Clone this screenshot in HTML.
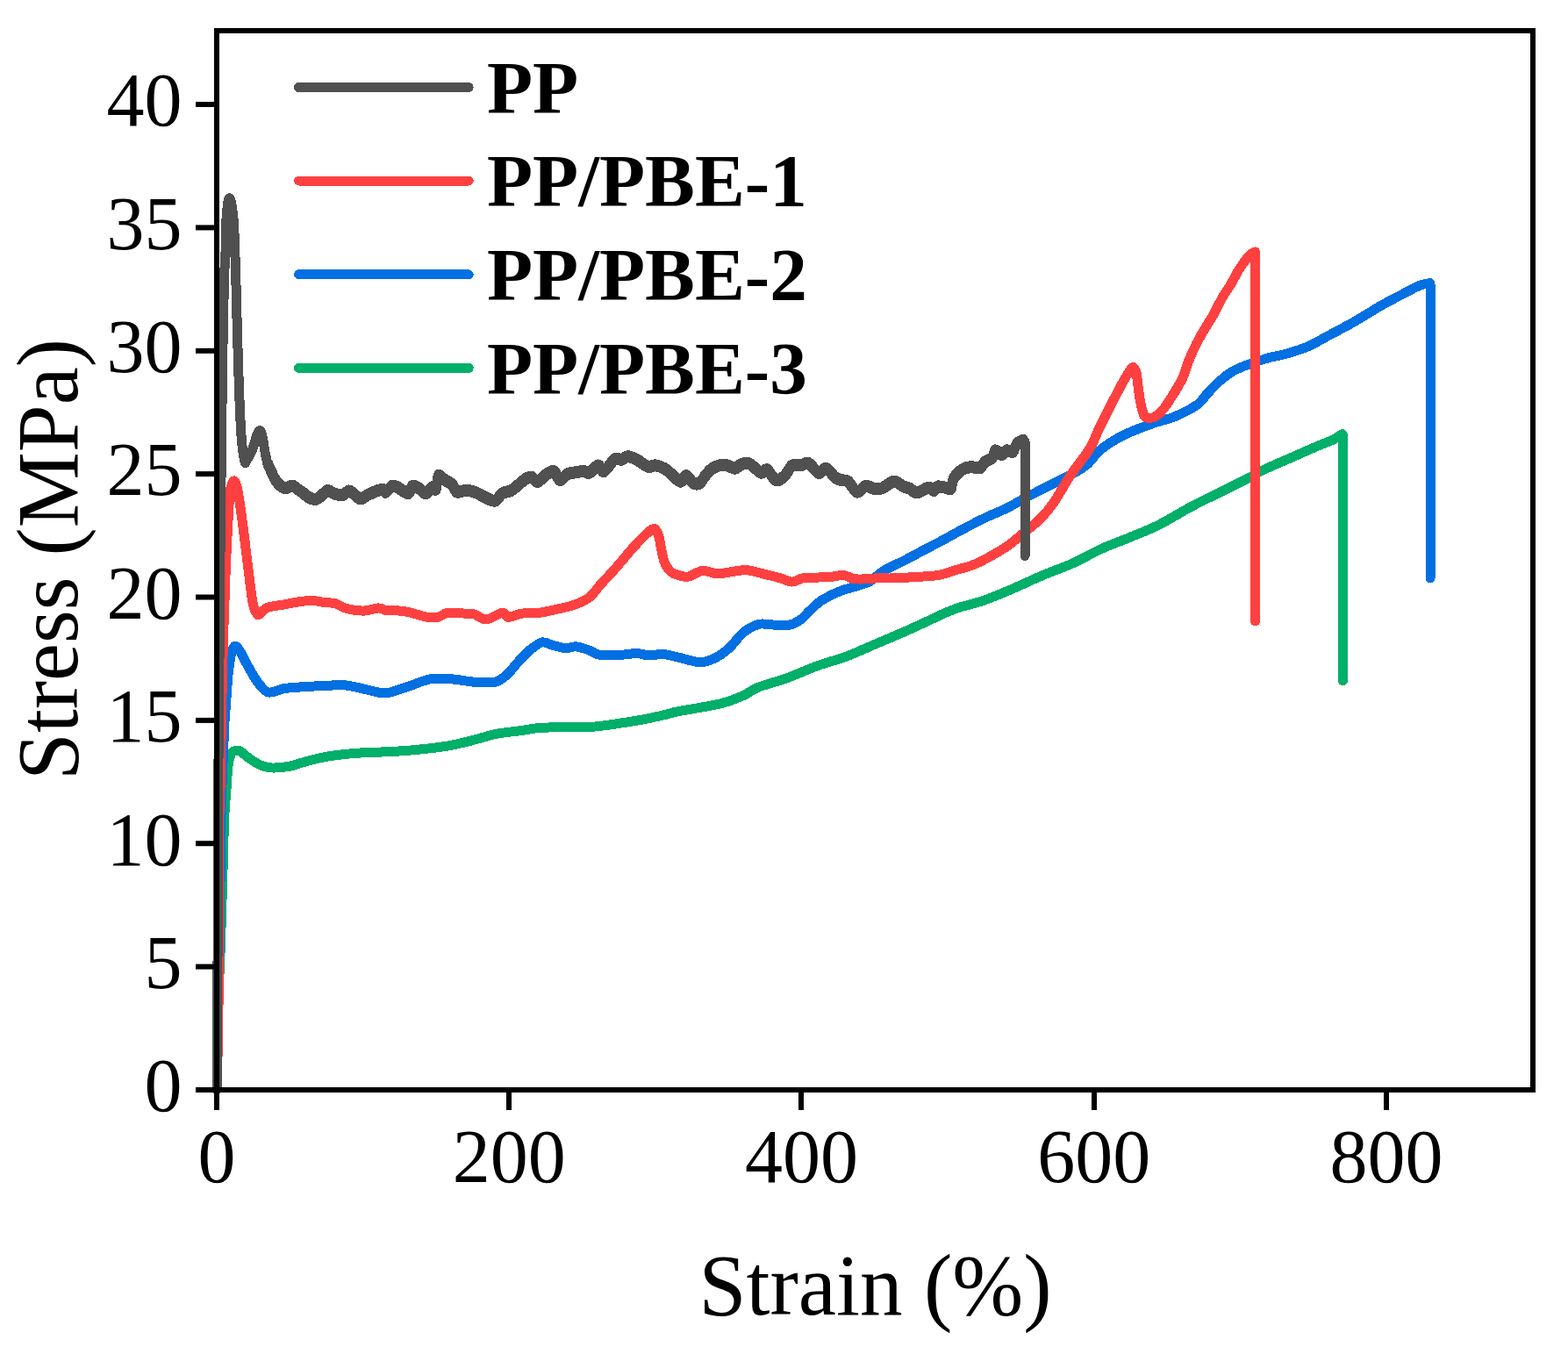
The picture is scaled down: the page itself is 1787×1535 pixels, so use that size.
<!DOCTYPE html>
<html><head><meta charset="utf-8"><title>Stress-strain curves</title>
<style>html,body{margin:0;padding:0;background:#fff;}svg{display:block;}text{font-family:'Liberation Serif', 'Times New Roman', serif;fill:#000;}</style>
</head><body>
<svg width="1787" height="1535" viewBox="0 0 1787 1535">
<rect width="1787" height="1535" fill="#fff"/>
<g fill="none" stroke-width="11" stroke-linejoin="round" stroke-linecap="round" shape-rendering="crispEdges">
<path stroke="#00af69" d="M247.0,1242.0 C247.1,1235.0 247.2,1217.3 247.5,1200.0 C247.8,1182.7 248.2,1158.7 248.9,1138.0 C249.6,1117.3 250.6,1100.3 251.4,1076.0 C252.2,1051.7 253.3,1016.3 254.0,992.0 C254.7,967.7 255.1,945.5 255.8,930.0 C256.5,914.5 257.3,908.5 258.0,899.0 C258.7,889.5 259.2,879.5 260.0,873.0 C260.8,866.5 261.9,862.8 263.0,860.0 C264.1,857.2 265.0,856.8 266.5,856.0 C268.0,855.2 270.2,854.9 272.0,855.3 C273.8,855.7 275.0,857.0 277.0,858.5 C279.0,860.0 280.8,862.0 284.1,864.2 C287.5,866.5 292.8,870.2 297.1,872.0 C301.4,873.8 304.7,874.8 310.1,875.0 C315.5,875.2 323.2,874.5 329.7,873.3 C336.2,872.1 342.7,869.3 349.2,867.6 C355.7,865.9 362.3,864.2 368.8,862.9 C375.3,861.6 380.7,860.9 388.3,860.0 C395.9,859.1 404.9,858.3 414.4,857.7 C423.8,857.1 434.8,857.2 445.0,856.6 C455.2,856.0 464.7,855.4 475.8,854.3 C486.9,853.2 501.2,851.6 511.6,849.8 C522.1,848.0 529.5,845.8 538.5,843.6 C547.5,841.4 556.4,838.2 565.4,836.4 C574.4,834.6 583.2,834.0 592.2,832.8 C601.2,831.6 605.7,829.9 619.1,829.2 C632.5,828.5 657.9,829.3 672.8,828.4 C687.7,827.5 698.1,825.4 708.6,823.9 C719.1,822.4 726.9,821.0 735.5,819.4 C744.1,817.8 753.9,815.4 760.0,814.0 C766.1,812.6 761.6,813.0 772.0,810.9 C782.4,808.8 809.7,804.7 822.3,801.6 C834.9,798.5 840.5,795.5 847.5,792.4 C854.5,789.3 855.9,786.6 864.3,783.2 C872.7,779.9 886.7,776.4 897.9,772.3 C909.1,768.2 920.2,762.9 931.4,758.8 C942.6,754.7 953.8,752.1 965.0,747.9 C976.2,743.7 987.8,738.2 998.6,733.6 C1009.4,729.0 1020.8,724.2 1030.0,720.2 C1039.2,716.2 1044.1,713.8 1053.6,709.5 C1063.1,705.2 1075.9,698.6 1087.1,694.4 C1098.3,690.2 1109.5,688.3 1120.7,684.4 C1131.9,680.5 1143.1,675.7 1154.3,670.9 C1165.5,666.1 1176.7,660.5 1187.9,655.8 C1199.1,651.0 1210.2,647.4 1221.4,642.4 C1232.6,637.4 1243.8,630.7 1255.0,625.6 C1266.2,620.5 1277.8,616.5 1288.6,612.0 C1299.4,607.5 1308.7,604.1 1320.0,598.5 C1331.3,592.9 1344.7,584.3 1356.3,578.1 C1367.9,571.9 1378.6,566.9 1389.8,561.3 C1401.0,555.7 1415.0,548.8 1423.4,544.5 C1431.8,540.2 1431.5,539.4 1440.0,535.4 C1448.5,531.4 1464.6,524.6 1474.6,520.2 C1484.6,515.8 1492.7,512.1 1500.0,509.0 C1507.3,505.9 1513.3,503.9 1518.3,501.5 C1523.3,499.1 1527.9,495.7 1529.8,494.5 L1530.5,496.5 L1530.5,775.8"/>
<path stroke="#0270e2" d="M247.0,1242.0 C247.2,1235.0 247.5,1225.0 248.0,1200.0 C248.5,1175.0 249.3,1137.0 250.0,1092.0 C250.7,1047.0 251.1,971.9 252.0,930.0 C252.9,888.1 254.5,858.9 255.2,840.7 C255.9,822.5 255.6,828.6 256.1,821.0 C256.6,813.4 257.4,803.7 258.0,795.0 C258.6,786.3 259.2,776.5 260.0,769.0 C260.8,761.5 261.7,754.8 262.5,750.0 C263.3,745.2 264.0,742.3 265.0,740.0 C266.0,737.7 267.3,735.9 268.7,736.2 C270.1,736.5 271.6,738.9 273.5,742.0 C275.4,745.1 277.3,749.5 280.2,754.7 C283.1,759.9 287.4,768.0 290.6,773.0 C293.9,778.0 297.1,782.0 299.7,784.7 C302.3,787.4 304.0,788.5 306.2,789.0 C308.4,789.5 310.2,788.7 313.0,788.0 C315.8,787.3 319.3,785.5 323.2,784.7 C327.1,783.9 330.8,783.8 336.2,783.4 C341.6,783.0 349.2,782.4 355.7,782.1 C362.2,781.8 370.3,781.7 375.3,781.4 C380.3,781.1 381.4,780.0 385.7,780.1 C390.0,780.2 395.5,781.0 401.4,782.1 C407.3,783.2 414.5,785.3 420.9,786.6 C427.3,787.9 432.6,790.5 440.0,789.8 C447.4,789.1 456.8,784.9 465.2,782.3 C473.6,779.6 482.0,775.3 490.4,773.9 C498.8,772.5 507.1,773.3 515.5,773.9 C523.9,774.5 532.6,776.7 540.7,777.2 C548.8,777.8 558.0,778.6 564.2,777.2 C570.4,775.8 573.2,772.7 577.7,768.8 C582.2,764.9 586.6,758.5 591.1,753.7 C595.6,749.0 600.0,743.9 604.5,740.3 C609.0,736.7 613.8,732.7 618.0,731.9 C622.2,731.1 625.2,734.2 629.7,735.3 C634.2,736.4 640.3,738.3 644.8,738.6 C649.3,738.9 652.1,736.5 656.6,736.9 C661.1,737.3 667.2,739.5 671.7,741.1 C676.2,742.7 677.2,745.4 683.4,746.2 C689.5,747.1 701.6,746.5 708.6,746.2 C715.6,745.9 720.2,744.4 725.4,744.5 C730.6,744.6 735.0,746.9 740.0,747.0 C745.0,747.1 749.9,745.1 755.2,745.4 C760.5,745.7 765.0,747.3 772.0,748.8 C779.0,750.3 790.1,754.3 797.1,754.6 C804.1,754.9 808.3,753.0 813.9,750.4 C819.5,747.8 825.1,743.7 830.7,738.7 C836.3,733.7 841.9,725.0 847.5,720.5 C853.1,716.0 859.3,713.0 864.3,711.5 C869.3,710.0 872.1,711.6 877.7,711.8 C883.3,712.0 892.3,713.4 897.9,712.6 C903.5,711.8 907.1,709.8 911.3,707.0 C915.5,704.2 918.8,699.6 923.0,695.8 C927.2,692.0 930.9,687.7 936.5,684.1 C942.1,680.5 949.6,676.8 956.6,674.0 C963.6,671.2 972.5,669.2 978.4,667.3 C984.3,665.3 987.1,665.1 991.9,662.3 C996.7,659.5 1000.6,654.4 1007.0,650.5 C1013.4,646.6 1022.2,643.0 1030.0,639.0 C1037.8,635.0 1045.8,630.6 1053.6,626.5 C1061.4,622.4 1069.1,618.5 1076.9,614.3 C1084.7,610.1 1092.6,605.5 1100.4,601.4 C1108.2,597.3 1116.0,593.3 1123.8,589.6 C1131.6,585.9 1139.5,583.0 1147.3,579.1 C1155.1,575.2 1162.5,570.6 1170.8,566.2 C1179.0,561.8 1188.3,557.3 1196.8,552.9 C1205.3,548.5 1215.0,543.9 1222.0,540.0 C1229.0,536.1 1233.2,534.1 1238.8,529.4 C1244.4,524.6 1248.5,517.1 1255.5,511.5 C1262.5,505.9 1270.9,500.7 1280.7,495.8 C1290.5,490.9 1304.5,485.9 1314.3,482.4 C1324.1,478.8 1331.1,478.1 1339.5,474.5 C1347.9,470.9 1358.6,465.4 1364.7,461.0 C1370.8,456.6 1371.7,452.9 1376.0,448.4 C1380.3,443.9 1385.5,438.2 1390.3,434.0 C1395.1,429.8 1399.8,426.2 1404.6,423.3 C1409.4,420.4 1413.1,419.1 1419.0,416.8 C1424.9,414.5 1435.1,411.1 1440.0,409.5 C1444.9,407.9 1444.4,408.0 1448.6,407.0 C1452.8,406.0 1458.4,405.3 1465.4,403.3 C1472.4,401.3 1482.3,398.5 1490.8,394.8 C1499.3,391.1 1507.7,385.8 1516.2,381.3 C1524.7,376.8 1534.5,371.6 1541.6,367.7 C1548.6,363.8 1552.8,361.0 1558.5,357.6 C1564.2,354.2 1568.4,351.3 1575.5,347.4 C1582.6,343.4 1593.9,337.6 1600.9,333.9 C1608.0,330.2 1613.0,327.3 1617.8,325.4 C1622.6,323.5 1627.7,323.0 1629.7,322.5 L1630.0,324.0 L1630.0,659.0"/>
<path stroke="#ff4040" d="M247.0,1242.0 C247.3,1226.7 248.5,1202.0 249.0,1150.0 C249.5,1098.0 249.7,971.0 250.0,930.0 C250.3,889.0 250.4,925.8 250.9,904.0 C251.4,882.2 252.2,828.0 252.8,799.0 C253.4,770.0 254.0,746.5 254.4,730.0 C254.8,713.5 255.2,710.0 255.5,700.0 C255.8,690.0 256.1,681.5 256.5,670.0 C256.9,658.5 257.2,647.7 258.0,631.0 C258.8,614.3 260.5,582.5 261.3,570.0 C262.1,557.5 262.2,559.6 263.0,556.0 C263.8,552.4 265.0,548.6 266.1,548.1 C267.2,547.6 268.4,549.7 269.5,553.0 C270.6,556.3 271.4,561.0 272.5,568.0 C273.6,575.0 274.6,581.8 276.3,595.0 C278.0,608.2 280.9,632.1 282.8,647.3 C284.8,662.5 286.3,677.6 288.0,686.4 C289.7,695.2 291.5,698.1 293.2,700.0 C294.9,701.9 296.3,698.7 298.0,697.5 C299.7,696.3 301.1,694.1 303.6,692.9 C306.1,691.7 309.7,691.1 313.0,690.5 C316.3,689.9 318.7,689.8 323.2,689.0 C327.7,688.2 334.6,686.8 340.0,686.0 C345.4,685.2 350.9,684.3 355.7,684.4 C360.5,684.5 364.4,685.8 368.8,686.4 C373.2,687.0 377.5,686.5 381.8,687.7 C386.1,688.9 389.4,692.1 394.8,693.5 C400.2,694.9 408.3,696.2 414.4,696.1 C420.5,696.0 427.0,693.0 431.3,692.9 C435.6,692.8 436.6,695.0 440.0,695.5 C443.4,696.0 447.6,695.5 451.8,695.8 C456.0,696.1 459.3,696.2 465.2,697.5 C471.1,698.8 481.4,702.4 487.0,703.4 C492.6,704.4 494.9,704.2 498.8,703.4 C502.7,702.5 505.2,699.0 510.5,698.3 C515.8,697.6 525.6,698.9 530.6,699.2 C535.6,699.5 536.8,698.9 540.7,700.0 C544.6,701.1 548.8,706.2 554.1,705.9 C559.4,705.6 568.4,698.7 572.6,698.3 C576.8,697.9 575.7,703.2 579.3,703.4 C582.9,703.5 588.5,700.1 594.4,699.2 C600.3,698.4 607.9,699.1 614.6,698.3 C621.3,697.5 628.0,695.7 634.7,694.2 C641.4,692.7 648.7,691.4 654.9,689.1 C661.1,686.9 667.0,684.3 671.7,680.7 C676.5,677.1 678.4,672.9 683.4,667.3 C688.4,661.7 695.5,654.4 701.9,647.1 C708.3,639.8 715.9,630.3 722.0,623.6 C728.1,616.9 734.4,610.4 738.4,606.9 C742.4,603.4 744.0,602.2 746.0,602.7 C748.0,603.2 749.2,606.3 750.5,610.0 C751.8,613.7 752.4,620.0 753.5,625.0 C754.6,630.0 755.6,636.0 757.0,640.0 C758.4,644.0 760.1,646.7 762.0,649.0 C763.9,651.3 765.0,652.5 768.6,653.9 C772.2,655.3 778.4,657.8 783.7,657.2 C789.0,656.6 794.9,651.0 800.5,650.5 C806.1,650.0 812.3,653.6 817.3,653.9 C822.3,654.2 825.1,652.9 830.7,652.2 C836.3,651.5 843.9,649.3 850.9,649.7 C857.9,650.1 866.3,653.2 872.7,654.7 C879.1,656.2 884.5,657.5 889.5,658.9 C894.5,660.3 898.7,663.1 902.9,663.1 C907.1,663.1 910.0,659.7 914.7,658.9 C919.5,658.1 925.8,658.4 931.4,658.1 C937.0,657.8 943.2,657.6 948.2,657.2 C953.2,656.8 957.5,655.1 961.7,655.5 C965.9,655.9 968.6,659.0 973.4,659.7 C978.1,660.4 984.6,660.0 990.2,659.7 C995.8,659.4 1003.0,658.2 1007.0,658.1 C1011.0,658.0 1006.7,659.2 1014.2,659.0 C1021.7,658.8 1042.7,657.6 1052.2,657.0 C1061.7,656.4 1064.9,656.4 1071.2,655.1 C1077.5,653.8 1084.0,651.3 1090.3,649.4 C1096.6,647.5 1103.0,646.2 1109.3,643.7 C1115.6,641.2 1122.0,637.7 1128.3,634.2 C1134.6,630.7 1140.9,627.2 1147.3,622.8 C1153.7,618.4 1160.1,612.8 1166.4,607.6 C1172.8,602.4 1179.8,597.0 1185.4,591.4 C1191.0,585.8 1195.9,579.6 1200.0,574.0 C1204.1,568.4 1206.6,563.5 1210.0,558.0 C1213.4,552.5 1215.0,549.1 1220.3,541.2 C1225.6,533.4 1236.6,519.9 1242.1,510.9 C1247.5,501.9 1248.9,495.8 1253.0,487.4 C1257.1,479.0 1261.9,469.6 1266.5,460.6 C1271.1,451.7 1277.1,440.1 1280.7,433.7 C1284.3,427.3 1286.2,424.5 1288.0,422.0 C1289.8,419.5 1290.4,418.1 1291.6,418.6 C1292.8,419.1 1294.1,421.4 1295.0,425.0 C1295.9,428.6 1296.3,434.9 1297.0,440.0 C1297.7,445.1 1298.4,450.8 1299.2,455.5 C1300.0,460.2 1301.0,464.8 1302.0,468.0 C1303.0,471.2 1303.7,473.6 1305.0,475.0 C1306.3,476.4 1308.0,476.6 1310.0,476.5 C1312.0,476.4 1314.4,476.2 1317.0,474.5 C1319.6,472.8 1322.4,470.5 1325.8,466.3 C1329.2,462.1 1333.6,455.1 1337.3,449.1 C1341.0,443.1 1345.1,436.7 1348.0,430.5 C1350.9,424.3 1351.9,418.2 1354.5,411.8 C1357.1,405.4 1360.4,398.0 1363.5,391.8 C1366.6,385.6 1369.8,380.3 1373.1,374.6 C1376.4,368.9 1380.2,363.5 1383.5,357.5 C1386.8,351.5 1390.0,344.5 1393.2,338.8 C1396.5,333.1 1399.9,328.8 1403.0,323.5 C1406.1,318.2 1408.9,312.2 1412.0,307.2 C1415.1,302.2 1419.4,296.5 1421.8,293.5 C1424.2,290.5 1425.0,290.1 1426.5,289.0 C1428.0,287.9 1429.9,287.3 1430.6,287.0 L1430.5,288.0 L1430.5,707.8"/>
<path stroke="#505050" d="M247.0,1242.0 C247.2,1218.3 247.8,1152.0 248.0,1100.0 C248.2,1048.0 248.1,991.7 248.5,930.0 C248.9,868.3 249.8,778.3 250.2,730.0 C250.6,681.7 250.6,673.3 250.9,640.0 C251.2,606.7 251.9,556.0 252.2,530.0 C252.5,504.0 252.5,499.3 252.7,484.0 C252.9,468.7 253.1,453.2 253.3,438.0 C253.5,422.8 253.7,408.2 254.0,393.0 C254.3,377.8 254.6,361.5 254.9,347.0 C255.2,332.5 255.6,316.7 256.0,306.0 C256.4,295.3 256.9,292.5 257.2,283.0 C257.5,273.5 257.6,257.2 258.0,249.0 C258.4,240.8 258.9,237.9 259.4,234.0 C259.9,230.1 260.5,226.1 261.2,225.8 C261.9,225.5 263.0,228.1 263.8,232.0 C264.6,235.9 265.4,242.7 266.0,249.0 C266.6,255.3 266.9,263.2 267.2,270.0 C267.5,276.8 267.7,284.0 267.9,290.0 C268.1,296.0 268.2,296.5 268.5,306.0 C268.8,315.5 269.2,332.5 269.6,347.0 C270.0,361.5 270.4,377.8 270.9,393.0 C271.3,408.2 271.8,422.8 272.3,438.0 C272.9,453.2 273.6,472.3 274.2,484.0 C274.8,495.7 275.4,501.7 276.0,508.0 C276.6,514.3 277.4,518.8 278.0,522.0 C278.6,525.2 279.0,527.0 279.5,527.5 C280.0,528.0 279.9,526.9 281.0,525.0 C282.1,523.1 284.5,519.3 286.0,516.0 C287.5,512.7 288.8,508.7 290.0,505.0 C291.2,501.3 292.4,496.3 293.5,494.0 C294.6,491.7 295.8,490.0 296.8,491.0 C297.8,492.0 298.6,496.0 299.5,500.0 C300.4,504.0 301.1,510.3 302.0,515.0 C302.9,519.7 303.8,524.3 305.0,528.0 C306.2,531.7 307.6,534.0 309.0,537.0 C310.4,540.0 311.9,543.5 313.4,546.0 C314.9,548.5 316.4,550.4 318.0,552.0 C319.6,553.6 321.5,554.8 323.0,555.5 C324.5,556.2 325.3,556.3 327.0,556.0 C328.7,555.7 330.8,553.2 333.0,553.5 C335.2,553.8 337.8,556.6 340.0,558.0 C342.2,559.4 344.2,560.7 346.0,562.0 C347.8,563.3 348.6,564.8 350.6,566.0 C352.6,567.2 355.9,568.8 358.0,569.0 C360.1,569.2 361.0,568.8 363.0,567.5 C365.0,566.2 368.2,562.9 370.0,561.5 C371.8,560.1 372.3,558.9 374.0,559.0 C375.7,559.1 377.4,561.1 380.0,562.0 C382.6,562.9 386.8,564.9 389.7,564.5 C392.6,564.1 395.1,559.7 397.5,559.5 C399.9,559.3 401.8,562.0 404.0,563.5 C406.2,565.0 408.3,568.5 411.0,568.5 C413.7,568.5 416.7,565.1 420.0,563.5 C423.3,561.9 427.9,559.9 430.7,559.0 C433.5,558.1 435.4,557.7 437.0,558.0 C438.6,558.3 438.4,561.3 440.0,560.6 C441.6,559.9 444.5,554.8 446.7,553.9 C448.9,553.0 450.3,554.1 453.4,555.5 C456.5,556.9 462.4,562.6 465.2,562.3 C468.0,562.0 468.0,554.8 470.2,553.9 C472.4,553.0 476.1,555.8 478.6,557.2 C481.1,558.6 483.1,562.6 485.3,562.3 C487.5,562.0 490.1,556.4 492.0,555.5 C493.9,554.6 495.7,559.4 497.0,557.2 C498.3,555.0 497.9,543.8 499.6,542.1 C501.3,540.4 504.5,545.4 507.1,547.1 C509.8,548.8 513.2,550.0 515.5,552.2 C517.8,554.5 518.1,559.5 520.6,560.6 C523.1,561.7 527.2,558.9 530.6,558.9 C534.0,558.9 536.8,559.2 540.7,560.6 C544.6,562.0 550.2,565.6 554.1,567.3 C558.0,569.0 561.1,571.4 564.2,570.6 C567.3,569.8 569.5,564.2 572.6,562.3 C575.7,560.3 579.6,560.6 582.7,558.9 C585.8,557.2 588.3,554.4 591.1,552.2 C593.9,550.0 597.0,546.9 599.5,545.5 C602.0,544.1 604.0,543.2 606.2,543.8 C608.4,544.3 610.1,549.4 612.9,548.8 C615.7,548.2 619.9,542.3 623.0,540.4 C626.1,538.5 628.9,536.0 631.4,537.1 C633.9,538.2 635.6,546.6 638.1,547.1 C640.6,547.6 644.0,541.8 646.5,540.4 C649.0,539.0 650.1,539.3 653.2,538.8 C656.3,538.2 661.9,537.1 665.0,537.1 C668.1,537.1 668.9,539.9 671.7,538.8 C674.5,537.7 678.9,530.7 681.7,530.4 C684.5,530.1 685.3,538.2 688.4,537.1 C691.5,536.0 696.8,525.9 700.2,523.6 C703.6,521.4 706.1,524.2 708.6,523.6 C711.1,523.0 712.5,520.3 715.3,520.3 C718.1,520.3 722.0,521.9 725.4,523.6 C728.8,525.3 733.1,529.0 735.5,530.4 C737.9,531.8 738.1,532.0 740.0,532.0 C741.9,532.0 743.9,530.1 746.7,530.4 C749.5,530.7 754.0,532.3 756.8,533.7 C759.6,535.1 760.4,536.3 763.5,538.8 C766.6,541.3 772.2,548.2 775.3,548.8 C778.4,549.3 779.5,541.8 782.0,542.1 C784.5,542.4 787.8,549.1 790.4,550.5 C793.0,551.9 795.7,551.9 797.9,550.5 C800.1,549.1 801.4,544.9 803.8,542.1 C806.2,539.3 808.6,535.8 812.2,533.7 C815.8,531.6 821.4,529.5 825.6,529.5 C829.8,529.5 834.3,533.7 837.4,533.7 C840.5,533.7 841.6,530.5 844.1,529.5 C846.6,528.5 849.7,527.1 852.5,527.8 C855.3,528.5 858.4,531.9 860.9,533.7 C863.4,535.5 865.4,538.5 867.6,538.8 C869.8,539.1 871.5,534.0 874.3,535.4 C877.1,536.8 881.0,546.0 884.4,547.1 C887.8,548.2 891.3,544.9 894.4,542.1 C897.5,539.3 899.7,532.4 902.8,530.4 C905.9,528.4 909.8,530.8 912.9,530.4 C916.0,530.0 917.9,526.4 921.3,527.8 C924.6,529.2 929.6,537.8 933.0,538.8 C936.4,539.8 938.3,532.9 941.4,533.7 C944.5,534.5 948.7,541.6 951.5,543.8 C954.3,546.0 955.7,546.3 958.2,547.1 C960.7,547.9 963.5,546.5 966.6,548.8 C969.7,551.0 973.3,559.8 976.7,560.6 C980.1,561.5 983.4,554.5 986.8,553.9 C990.1,553.3 993.7,556.8 996.8,557.2 C999.9,557.6 1001.6,557.8 1005.2,556.4 C1008.9,555.0 1014.6,549.1 1018.7,548.8 C1022.8,548.5 1027.0,553.2 1030.0,554.5 C1033.0,555.8 1034.5,555.6 1037.0,556.8 C1039.5,558.0 1041.7,561.7 1045.2,561.5 C1048.7,561.3 1055.1,556.0 1058.2,555.6 C1061.3,555.2 1062.2,559.3 1064.0,559.1 C1065.8,558.9 1066.5,555.1 1068.7,554.5 C1070.9,553.9 1074.4,555.2 1076.9,555.6 C1079.5,556.0 1082.4,558.4 1084.0,556.8 C1085.6,555.2 1084.3,549.7 1086.3,546.2 C1088.2,542.7 1092.4,538.0 1095.7,535.7 C1099.0,533.4 1102.7,532.6 1106.2,532.2 C1109.7,531.8 1114.0,534.3 1116.8,533.3 C1119.5,532.3 1120.3,528.2 1122.7,526.3 C1125.1,524.3 1129.0,523.8 1130.9,521.6 C1132.9,519.5 1132.7,514.0 1134.4,513.4 C1136.2,512.8 1139.2,518.1 1141.4,518.1 C1143.6,518.1 1145.2,514.0 1147.3,513.4 C1149.4,512.8 1152.3,515.9 1154.3,514.6 C1156.2,513.3 1157.0,507.9 1159.0,505.7 C1161.0,503.5 1164.9,502.2 1166.1,501.5 L1168.0,503.0 L1168.0,633.5"/>
<path stroke="#505050" transform="translate(0,-1.5)" d="M305.0,528.0 C305.7,529.5 307.6,534.0 309.0,537.0 C310.4,540.0 311.9,543.5 313.4,546.0 C314.9,548.5 316.4,550.4 318.0,552.0 C319.6,553.6 321.5,554.8 323.0,555.5 C324.5,556.2 325.3,556.3 327.0,556.0 C328.7,555.7 330.8,553.2 333.0,553.5 C335.2,553.8 337.8,556.6 340.0,558.0 C342.2,559.4 344.2,560.7 346.0,562.0 C347.8,563.3 348.6,564.8 350.6,566.0 C352.6,567.2 355.9,568.8 358.0,569.0 C360.1,569.2 361.0,568.8 363.0,567.5 C365.0,566.2 368.2,562.9 370.0,561.5 C371.8,560.1 372.3,558.9 374.0,559.0 C375.7,559.1 377.4,561.1 380.0,562.0 C382.6,562.9 386.8,564.9 389.7,564.5 C392.6,564.1 395.1,559.7 397.5,559.5 C399.9,559.3 401.8,562.0 404.0,563.5 C406.2,565.0 408.3,568.5 411.0,568.5 C413.7,568.5 416.7,565.1 420.0,563.5 C423.3,561.9 427.9,559.9 430.7,559.0 C433.5,558.1 435.4,557.7 437.0,558.0 C438.6,558.3 438.4,561.3 440.0,560.6 C441.6,559.9 444.5,554.8 446.7,553.9 C448.9,553.0 450.3,554.1 453.4,555.5 C456.5,556.9 462.4,562.6 465.2,562.3 C468.0,562.0 468.0,554.8 470.2,553.9 C472.4,553.0 476.1,555.8 478.6,557.2 C481.1,558.6 483.1,562.6 485.3,562.3 C487.5,562.0 490.1,556.4 492.0,555.5 C493.9,554.6 495.7,559.4 497.0,557.2 C498.3,555.0 497.9,543.8 499.6,542.1 C501.3,540.4 504.5,545.4 507.1,547.1 C509.8,548.8 513.2,550.0 515.5,552.2 C517.8,554.5 518.1,559.5 520.6,560.6 C523.1,561.7 527.2,558.9 530.6,558.9 C534.0,558.9 536.8,559.2 540.7,560.6 C544.6,562.0 550.2,565.6 554.1,567.3 C558.0,569.0 561.1,571.4 564.2,570.6 C567.3,569.8 569.5,564.2 572.6,562.3 C575.7,560.3 579.6,560.6 582.7,558.9 C585.8,557.2 588.3,554.4 591.1,552.2 C593.9,550.0 597.0,546.9 599.5,545.5 C602.0,544.1 604.0,543.2 606.2,543.8 C608.4,544.3 610.1,549.4 612.9,548.8 C615.7,548.2 619.9,542.3 623.0,540.4 C626.1,538.5 628.9,536.0 631.4,537.1 C633.9,538.2 635.6,546.6 638.1,547.1 C640.6,547.6 644.0,541.8 646.5,540.4 C649.0,539.0 650.1,539.3 653.2,538.8 C656.3,538.2 661.9,537.1 665.0,537.1 C668.1,537.1 668.9,539.9 671.7,538.8 C674.5,537.7 678.9,530.7 681.7,530.4 C684.5,530.1 685.3,538.2 688.4,537.1 C691.5,536.0 696.8,525.9 700.2,523.6 C703.6,521.4 706.1,524.2 708.6,523.6 C711.1,523.0 712.5,520.3 715.3,520.3 C718.1,520.3 722.0,521.9 725.4,523.6 C728.8,525.3 733.1,529.0 735.5,530.4 C737.9,531.8 738.1,532.0 740.0,532.0 C741.9,532.0 743.9,530.1 746.7,530.4 C749.5,530.7 754.0,532.3 756.8,533.7 C759.6,535.1 760.4,536.3 763.5,538.8 C766.6,541.3 772.2,548.2 775.3,548.8 C778.4,549.3 779.5,541.8 782.0,542.1 C784.5,542.4 787.8,549.1 790.4,550.5 C793.0,551.9 795.7,551.9 797.9,550.5 C800.1,549.1 801.4,544.9 803.8,542.1 C806.2,539.3 808.6,535.8 812.2,533.7 C815.8,531.6 821.4,529.5 825.6,529.5 C829.8,529.5 834.3,533.7 837.4,533.7 C840.5,533.7 841.6,530.5 844.1,529.5 C846.6,528.5 849.7,527.1 852.5,527.8 C855.3,528.5 858.4,531.9 860.9,533.7 C863.4,535.5 865.4,538.5 867.6,538.8 C869.8,539.1 871.5,534.0 874.3,535.4 C877.1,536.8 881.0,546.0 884.4,547.1 C887.8,548.2 891.3,544.9 894.4,542.1 C897.5,539.3 899.7,532.4 902.8,530.4 C905.9,528.4 909.8,530.8 912.9,530.4 C916.0,530.0 917.9,526.4 921.3,527.8 C924.6,529.2 929.6,537.8 933.0,538.8 C936.4,539.8 938.3,532.9 941.4,533.7 C944.5,534.5 948.7,541.6 951.5,543.8 C954.3,546.0 955.7,546.3 958.2,547.1 C960.7,547.9 963.5,546.5 966.6,548.8 C969.7,551.0 973.3,559.8 976.7,560.6 C980.1,561.5 983.4,554.5 986.8,553.9 C990.1,553.3 993.7,556.8 996.8,557.2 C999.9,557.6 1001.6,557.8 1005.2,556.4 C1008.9,555.0 1014.6,549.1 1018.7,548.8 C1022.8,548.5 1027.0,553.2 1030.0,554.5 C1033.0,555.8 1034.5,555.6 1037.0,556.8 C1039.5,558.0 1041.7,561.7 1045.2,561.5 C1048.7,561.3 1055.1,556.0 1058.2,555.6 C1061.3,555.2 1062.2,559.3 1064.0,559.1 C1065.8,558.9 1066.5,555.1 1068.7,554.5 C1070.9,553.9 1074.4,555.2 1076.9,555.6 C1079.5,556.0 1082.4,558.4 1084.0,556.8 C1085.6,555.2 1084.3,549.7 1086.3,546.2 C1088.2,542.7 1092.4,538.0 1095.7,535.7 C1099.0,533.4 1102.7,532.6 1106.2,532.2 C1109.7,531.8 1114.0,534.3 1116.8,533.3 C1119.5,532.3 1120.3,528.2 1122.7,526.3 C1125.1,524.3 1129.0,523.8 1130.9,521.6 C1132.9,519.5 1132.7,514.0 1134.4,513.4 C1136.2,512.8 1139.2,518.1 1141.4,518.1 C1143.6,518.1 1145.2,514.0 1147.3,513.4 C1149.4,512.8 1152.3,515.9 1154.3,514.6 C1156.2,513.3 1157.0,507.9 1159.0,505.7 C1161.0,503.5 1164.9,502.2 1166.1,501.5"/>
<path stroke="#505050" transform="translate(0,1.5)" d="M305.0,528.0 C305.7,529.5 307.6,534.0 309.0,537.0 C310.4,540.0 311.9,543.5 313.4,546.0 C314.9,548.5 316.4,550.4 318.0,552.0 C319.6,553.6 321.5,554.8 323.0,555.5 C324.5,556.2 325.3,556.3 327.0,556.0 C328.7,555.7 330.8,553.2 333.0,553.5 C335.2,553.8 337.8,556.6 340.0,558.0 C342.2,559.4 344.2,560.7 346.0,562.0 C347.8,563.3 348.6,564.8 350.6,566.0 C352.6,567.2 355.9,568.8 358.0,569.0 C360.1,569.2 361.0,568.8 363.0,567.5 C365.0,566.2 368.2,562.9 370.0,561.5 C371.8,560.1 372.3,558.9 374.0,559.0 C375.7,559.1 377.4,561.1 380.0,562.0 C382.6,562.9 386.8,564.9 389.7,564.5 C392.6,564.1 395.1,559.7 397.5,559.5 C399.9,559.3 401.8,562.0 404.0,563.5 C406.2,565.0 408.3,568.5 411.0,568.5 C413.7,568.5 416.7,565.1 420.0,563.5 C423.3,561.9 427.9,559.9 430.7,559.0 C433.5,558.1 435.4,557.7 437.0,558.0 C438.6,558.3 438.4,561.3 440.0,560.6 C441.6,559.9 444.5,554.8 446.7,553.9 C448.9,553.0 450.3,554.1 453.4,555.5 C456.5,556.9 462.4,562.6 465.2,562.3 C468.0,562.0 468.0,554.8 470.2,553.9 C472.4,553.0 476.1,555.8 478.6,557.2 C481.1,558.6 483.1,562.6 485.3,562.3 C487.5,562.0 490.1,556.4 492.0,555.5 C493.9,554.6 495.7,559.4 497.0,557.2 C498.3,555.0 497.9,543.8 499.6,542.1 C501.3,540.4 504.5,545.4 507.1,547.1 C509.8,548.8 513.2,550.0 515.5,552.2 C517.8,554.5 518.1,559.5 520.6,560.6 C523.1,561.7 527.2,558.9 530.6,558.9 C534.0,558.9 536.8,559.2 540.7,560.6 C544.6,562.0 550.2,565.6 554.1,567.3 C558.0,569.0 561.1,571.4 564.2,570.6 C567.3,569.8 569.5,564.2 572.6,562.3 C575.7,560.3 579.6,560.6 582.7,558.9 C585.8,557.2 588.3,554.4 591.1,552.2 C593.9,550.0 597.0,546.9 599.5,545.5 C602.0,544.1 604.0,543.2 606.2,543.8 C608.4,544.3 610.1,549.4 612.9,548.8 C615.7,548.2 619.9,542.3 623.0,540.4 C626.1,538.5 628.9,536.0 631.4,537.1 C633.9,538.2 635.6,546.6 638.1,547.1 C640.6,547.6 644.0,541.8 646.5,540.4 C649.0,539.0 650.1,539.3 653.2,538.8 C656.3,538.2 661.9,537.1 665.0,537.1 C668.1,537.1 668.9,539.9 671.7,538.8 C674.5,537.7 678.9,530.7 681.7,530.4 C684.5,530.1 685.3,538.2 688.4,537.1 C691.5,536.0 696.8,525.9 700.2,523.6 C703.6,521.4 706.1,524.2 708.6,523.6 C711.1,523.0 712.5,520.3 715.3,520.3 C718.1,520.3 722.0,521.9 725.4,523.6 C728.8,525.3 733.1,529.0 735.5,530.4 C737.9,531.8 738.1,532.0 740.0,532.0 C741.9,532.0 743.9,530.1 746.7,530.4 C749.5,530.7 754.0,532.3 756.8,533.7 C759.6,535.1 760.4,536.3 763.5,538.8 C766.6,541.3 772.2,548.2 775.3,548.8 C778.4,549.3 779.5,541.8 782.0,542.1 C784.5,542.4 787.8,549.1 790.4,550.5 C793.0,551.9 795.7,551.9 797.9,550.5 C800.1,549.1 801.4,544.9 803.8,542.1 C806.2,539.3 808.6,535.8 812.2,533.7 C815.8,531.6 821.4,529.5 825.6,529.5 C829.8,529.5 834.3,533.7 837.4,533.7 C840.5,533.7 841.6,530.5 844.1,529.5 C846.6,528.5 849.7,527.1 852.5,527.8 C855.3,528.5 858.4,531.9 860.9,533.7 C863.4,535.5 865.4,538.5 867.6,538.8 C869.8,539.1 871.5,534.0 874.3,535.4 C877.1,536.8 881.0,546.0 884.4,547.1 C887.8,548.2 891.3,544.9 894.4,542.1 C897.5,539.3 899.7,532.4 902.8,530.4 C905.9,528.4 909.8,530.8 912.9,530.4 C916.0,530.0 917.9,526.4 921.3,527.8 C924.6,529.2 929.6,537.8 933.0,538.8 C936.4,539.8 938.3,532.9 941.4,533.7 C944.5,534.5 948.7,541.6 951.5,543.8 C954.3,546.0 955.7,546.3 958.2,547.1 C960.7,547.9 963.5,546.5 966.6,548.8 C969.7,551.0 973.3,559.8 976.7,560.6 C980.1,561.5 983.4,554.5 986.8,553.9 C990.1,553.3 993.7,556.8 996.8,557.2 C999.9,557.6 1001.6,557.8 1005.2,556.4 C1008.9,555.0 1014.6,549.1 1018.7,548.8 C1022.8,548.5 1027.0,553.2 1030.0,554.5 C1033.0,555.8 1034.5,555.6 1037.0,556.8 C1039.5,558.0 1041.7,561.7 1045.2,561.5 C1048.7,561.3 1055.1,556.0 1058.2,555.6 C1061.3,555.2 1062.2,559.3 1064.0,559.1 C1065.8,558.9 1066.5,555.1 1068.7,554.5 C1070.9,553.9 1074.4,555.2 1076.9,555.6 C1079.5,556.0 1082.4,558.4 1084.0,556.8 C1085.6,555.2 1084.3,549.7 1086.3,546.2 C1088.2,542.7 1092.4,538.0 1095.7,535.7 C1099.0,533.4 1102.7,532.6 1106.2,532.2 C1109.7,531.8 1114.0,534.3 1116.8,533.3 C1119.5,532.3 1120.3,528.2 1122.7,526.3 C1125.1,524.3 1129.0,523.8 1130.9,521.6 C1132.9,519.5 1132.7,514.0 1134.4,513.4 C1136.2,512.8 1139.2,518.1 1141.4,518.1 C1143.6,518.1 1145.2,514.0 1147.3,513.4 C1149.4,512.8 1152.3,515.9 1154.3,514.6 C1156.2,513.3 1157.0,507.9 1159.0,505.7 C1161.0,503.5 1164.9,502.2 1166.1,501.5"/>
</g>
<g fill="#000">
<rect x="244" y="32" width="1506" height="6"/>
<rect x="244" y="1239" width="1506" height="6"/>
<rect x="244" y="32" width="6" height="1213"/>
<rect x="1744" y="32" width="6" height="1213"/>
<rect x="223" y="1239.0" width="22" height="6"/>
<rect x="223" y="1098.6" width="22" height="6"/>
<rect x="223" y="958.2" width="22" height="6"/>
<rect x="223" y="817.9" width="22" height="6"/>
<rect x="223" y="677.5" width="22" height="6"/>
<rect x="223" y="537.1" width="22" height="6"/>
<rect x="223" y="396.8" width="22" height="6"/>
<rect x="223" y="256.4" width="22" height="6"/>
<rect x="223" y="116.0" width="22" height="6"/>
<rect x="244" y="1244" width="6" height="21"/>
<rect x="577" y="1244" width="6" height="21"/>
<rect x="910" y="1244" width="6" height="21"/>
<rect x="1244" y="1244" width="6" height="21"/>
<rect x="1577" y="1244" width="6" height="21"/>
</g>
<text x="207.6" y="1266.2" font-size="86" text-anchor="end">0</text>
<text x="207.6" y="1125.8" font-size="86" text-anchor="end">5</text>
<text x="207.6" y="985.5" font-size="86" text-anchor="end">10</text>
<text x="207.6" y="845.1" font-size="86" text-anchor="end">15</text>
<text x="207.6" y="704.7" font-size="86" text-anchor="end">20</text>
<text x="207.6" y="564.3" font-size="86" text-anchor="end">25</text>
<text x="207.6" y="423.9" font-size="86" text-anchor="end">30</text>
<text x="207.6" y="283.6" font-size="86" text-anchor="end">35</text>
<text x="207.6" y="143.2" font-size="86" text-anchor="end">40</text>
<text x="247.0" y="1347.3" font-size="86" text-anchor="middle">0</text>
<text x="580.2" y="1347.3" font-size="86" text-anchor="middle">200</text>
<text x="913.5" y="1347.3" font-size="86" text-anchor="middle">400</text>
<text x="1246.8" y="1347.3" font-size="86" text-anchor="middle">600</text>
<text x="1580.0" y="1347.3" font-size="86" text-anchor="middle">800</text>
<text transform="translate(997.5,1497.5) scale(0.972,1)" font-size="100" text-anchor="middle">Strain (%)</text>
<text transform="translate(87.5,637.5) rotate(-90) scale(0.968,1)" font-size="100" text-anchor="middle">Stress (MPa)</text>
<g stroke-width="11" stroke-linecap="round" shape-rendering="crispEdges">
<line x1="340.6" y1="99.5" x2="534.2" y2="99.5" stroke="#505050"/>
<line x1="340.6" y1="206.0" x2="534.2" y2="206.0" stroke="#ff4040"/>
<line x1="340.6" y1="312.8" x2="534.2" y2="312.8" stroke="#0270e2"/>
<line x1="340.6" y1="419.4" x2="534.2" y2="419.4" stroke="#00af69"/>
</g>
<text x="555" y="128.7" font-size="85.3" font-weight="bold">PP</text>
<text x="555" y="235.2" font-size="85.3" font-weight="bold">PP/PBE-1</text>
<text x="555" y="342.0" font-size="85.3" font-weight="bold">PP/PBE-2</text>
<text x="555" y="448.6" font-size="85.3" font-weight="bold">PP/PBE-3</text>
</svg>
</body></html>
